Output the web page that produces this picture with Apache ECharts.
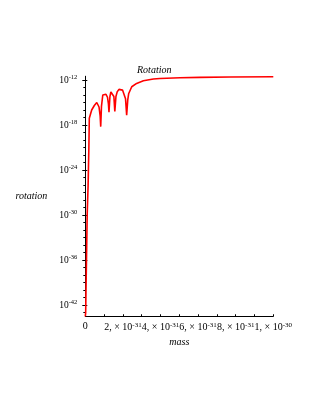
<!DOCTYPE html>
<html><head><meta charset="utf-8">
<script src="https://cdn.jsdelivr.net/npm/echarts@6/dist/echarts.min.js"></script>
<style>html,body{margin:0;padding:0;background:#fff}#c{width:315px;height:407px}</style>
</head><body><div id="c"></div>
<script>
// mass in units of 1e-31
var massE31 = [0.0, 0.02, 0.05, 0.10, 0.15, 0.19, 0.213, 0.34, 0.48, 0.61, 0.73, 0.79, 0.82, 0.86, 0.93, 1.10, 1.18, 1.23, 1.26, 1.31, 1.36, 1.46, 1.52, 1.57, 1.63, 1.70, 1.79, 1.88, 1.98, 2.06, 2.14, 2.20, 2.26, 2.31, 2.47, 2.73, 3.09, 3.62, 3.97, 5.04, 6.10, 7.70, 10.0];
// rotation values
var rotation = [3e-44, 1e-43, 1e-38, 1e-30, 1e-26, 1e-21, 8e-18, 1e-16, 4e-16, 1e-15, 2.5e-16, 1.6e-17, 6e-19, 3e-16, 1e-14, 1.25e-14, 5e-15, 6.3e-16, 5e-17, 6.3e-15, 2.5e-14, 4e-14, 6.3e-15, 6.3e-17, 6.3e-15, 2.8e-14, 5.6e-14, 6.3e-14, 4.5e-14, 2.5e-14, 3.2e-15, 2e-17, 2.5e-15, 1.6e-14, 1.25e-13, 3.5e-13, 7.9e-13, 1.35e-12, 1.6e-12, 2e-12, 2.25e-12, 2.5e-12, 2.75e-12];
var yLabelExps = [-42, -36, -30, -24, -18, -12];
var yMinorExps = [];
for (var e = -43; e <= -12; e++) yMinorExps.push(e);
var xLabelVals = [0, 2, 4, 6, 8, 10];
var xLabelTexts = [['0', ''], ['2, × 10', '-31'], ['4, × 10', '-31'], ['6, × 10', '-31'], ['8, × 10', '-31'], ['1, × 10', '-30']];
var xMinorVals = [0,1,2,3,4,5,6,7,8,9,10];

var data = massE31.map(function (m, i) { return [m, Math.log10(rotation[i])]; });
var FONT = 'Liberation Serif';
var richY = {
  b: { fontFamily: FONT, fontSize: 9.5, color: '#000' },
  s: { fontFamily: FONT, fontSize: 6.5, color: '#000', padding: [0, 0, 5, 0] }
};
var richX = {
  b: { fontFamily: FONT, fontSize: 10, color: '#000' },
  s: { fontFamily: FONT, fontSize: 7, color: '#000', padding: [0, 0, 5, 0] }
};
var chart = echarts.init(document.getElementById('c'), null, { renderer: 'canvas' });
var yBase = { type: 'value', min: -43.5, max: -11.5, interval: 0.5, position: 'left', splitLine: { show: false } };
chart.setOption({
  animation: false,
  backgroundColor: '#fff',
  title: { text: 'Rotation', left: 132, top: 60, textStyle: { fontFamily: FONT, fontStyle: 'italic', fontWeight: 'normal', fontSize: 10, color: '#000' } },
  grid: { left: 85.3, right: 41.7, top: 76.25, bottom: 90.75, containLabel: false },
  xAxis: {
    type: 'value', min: 0, max: 10, interval: 1,
    name: 'mass', nameLocation: 'middle', nameGap: 21,
    nameTextStyle: { fontFamily: FONT, fontStyle: 'italic', fontSize: 10, color: '#000' },
    axisLine: { lineStyle: { color: '#000', width: 1 } },
    axisTick: { inside: true, length: 2, customValues: xMinorVals, lineStyle: { color: '#000' } },
    axisLabel: {
      customValues: xLabelVals, margin: 5, rich: richX,
      formatter: function (v) { var i = xLabelVals.indexOf(Math.round(v)); var t = xLabelTexts[i]; return t[1] ? '{b|' + t[0] + '}{s|' + t[1] + '}' : '{b|' + t[0] + '}'; }
    },
    splitLine: { show: false }
  },
  yAxis: [
    Object.assign({}, yBase, {
      name: 'rotation', nameLocation: 'middle', nameGap: 38, nameRotate: 0,
      nameTextStyle: { fontFamily: FONT, fontStyle: 'italic', fontSize: 10, color: '#000', align: 'right' },
      axisLine: { lineStyle: { color: '#000', width: 1 } },
      axisTick: { length: 3, customValues: yLabelExps, lineStyle: { color: '#000' } },
      axisLabel: { customValues: yLabelExps, margin: 8, rich: richY, formatter: function (v) { return '{b|10}{s|' + Math.round(v) + '}'; } }
    }),
    Object.assign({}, yBase, {
      axisLine: { show: false },
      axisTick: { length: 2, customValues: yMinorExps, lineStyle: { color: '#000' } },
      axisLabel: { show: false }
    }),
    Object.assign({}, yBase, {
      axisLine: { show: false },
      axisTick: { inside: true, length: 2, customValues: yLabelExps, lineStyle: { color: '#000' } },
      axisLabel: { show: false }
    })
  ],
  series: [{
    type: 'line', yAxisIndex: 0, data: data, showSymbol: false, smooth: false,
    lineStyle: { color: '#ff0000', width: 1.6 }
  }]
});
</script></body></html>
